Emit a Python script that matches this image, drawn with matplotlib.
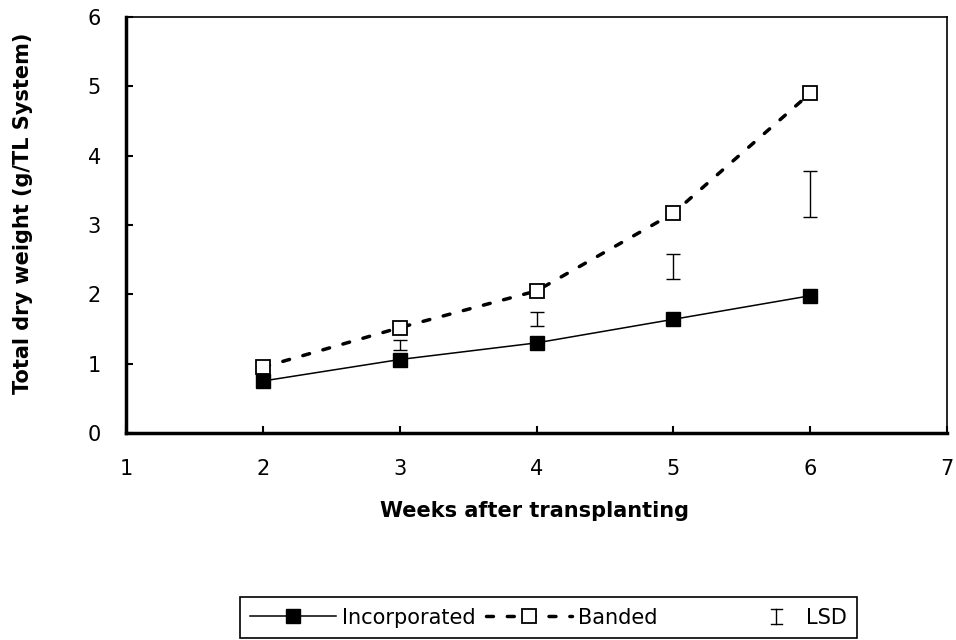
import matplotlib
matplotlib.use("Agg")
import matplotlib.pyplot as plt
from matplotlib.lines import Line2D

# Wochen nach dem Verpflanzen
weeks = [2, 3, 4, 5, 6]

# Gesamttrockengewicht (g/TL System)
incorporated = [0.75, 1.06, 1.30, 1.64, 1.98]
banded = [0.95, 1.52, 2.05, 3.17, 4.90]

# LSD-Balken (untere / obere Grenze)
lsd_weeks = [3, 4, 5, 6]
lsd_low = [1.20, 1.54, 2.22, 3.11]
lsd_high = [1.34, 1.75, 2.58, 3.78]

lsd_mid = [(lo + hi) / 2 for lo, hi in zip(lsd_low, lsd_high)]
lsd_half = [(hi - lo) / 2 for lo, hi in zip(lsd_low, lsd_high)]


# LSD-Symbol in der Legende etwas nach rechts setzen
class LSDHandler:
    def legend_artist(self, legend, orig_handle, fontsize, handlebox):
        x0, y0 = -handlebox.xdescent, -handlebox.ydescent
        w, h = handlebox.width, handlebox.height
        xc = x0 + 0.73 * w
        yb, yt = y0 + 0.0 * h, y0 + 1.0 * h
        cap = 4
        for xs, ys in [([xc, xc], [yb, yt]),
                       ([xc - cap, xc + cap], [yb, yb]),
                       ([xc - cap, xc + cap], [yt, yt])]:
            handlebox.add_artist(Line2D(xs, ys, color="black", linewidth=1.0,
                                        transform=handlebox.get_transform()))
        return handlebox


plt.rcParams["font.family"] = "DejaVu Sans"

fig = plt.figure(figsize=(9.56, 6.4), dpi=100)
ax = fig.add_axes([0.1318, 0.3234, 0.8588, 0.65])

ax.plot(weeks, incorporated, color="black", linewidth=1.1, marker="s",
        markersize=10, markerfacecolor="black", markeredgecolor="black",
        label="Incorporated", zorder=4)
ax.plot(weeks, banded, color="black", linewidth=2.5, dashes=(2, 4),
        dash_capstyle="round", marker="s", markersize=10.5,
        markerfacecolor="white", markeredgecolor="black", markeredgewidth=1.3,
        label="Banded" + " " * 7, zorder=3)
lsd = ax.errorbar(lsd_weeks, lsd_mid, yerr=lsd_half, fmt="none", ecolor="black",
                  elinewidth=1.0, capsize=5, capthick=1.0, label="LSD")

# Achsen
ax.set_xlim(1, 7)
ax.set_ylim(0, 6)
ax.set_xticks(range(1, 8))
ax.set_yticks(range(0, 7))
ax.tick_params(axis="both", direction="in", length=5, width=1.5,
               labelsize=15, colors="black")
ax.tick_params(axis="x", pad=19)
ax.tick_params(axis="y", pad=18)

ax.spines["left"].set_linewidth(2.5)
ax.spines["bottom"].set_linewidth(2.5)
ax.spines["top"].set_linewidth(1.2)
ax.spines["right"].set_linewidth(1.2)

ax.set_xlabel("Weeks after transplanting", fontsize=15, fontweight="bold")
ax.set_ylabel("Total dry weight (g/TL System)", fontsize=15, fontweight="bold")
ax.xaxis.set_label_coords(0.497, -0.163)
ax.yaxis.set_label_coords(-0.113, 0.527)

# Legende unten
handles, labels = ax.get_legend_handles_labels()
leg = ax.legend(handles, labels, loc="lower left",
                bbox_to_anchor=(240 / 956, 2 / 640),
                bbox_transform=fig.transFigure, ncol=3, fontsize=15,
                handlelength=4.1, handletextpad=0.3, columnspacing=0.5,
                borderpad=0.5, borderaxespad=0, fancybox=False,
                framealpha=1, edgecolor="black",
                handler_map={lsd: LSDHandler()})
leg.get_frame().set_linewidth(1.2)

fig.savefig("out.png", dpi=100)
